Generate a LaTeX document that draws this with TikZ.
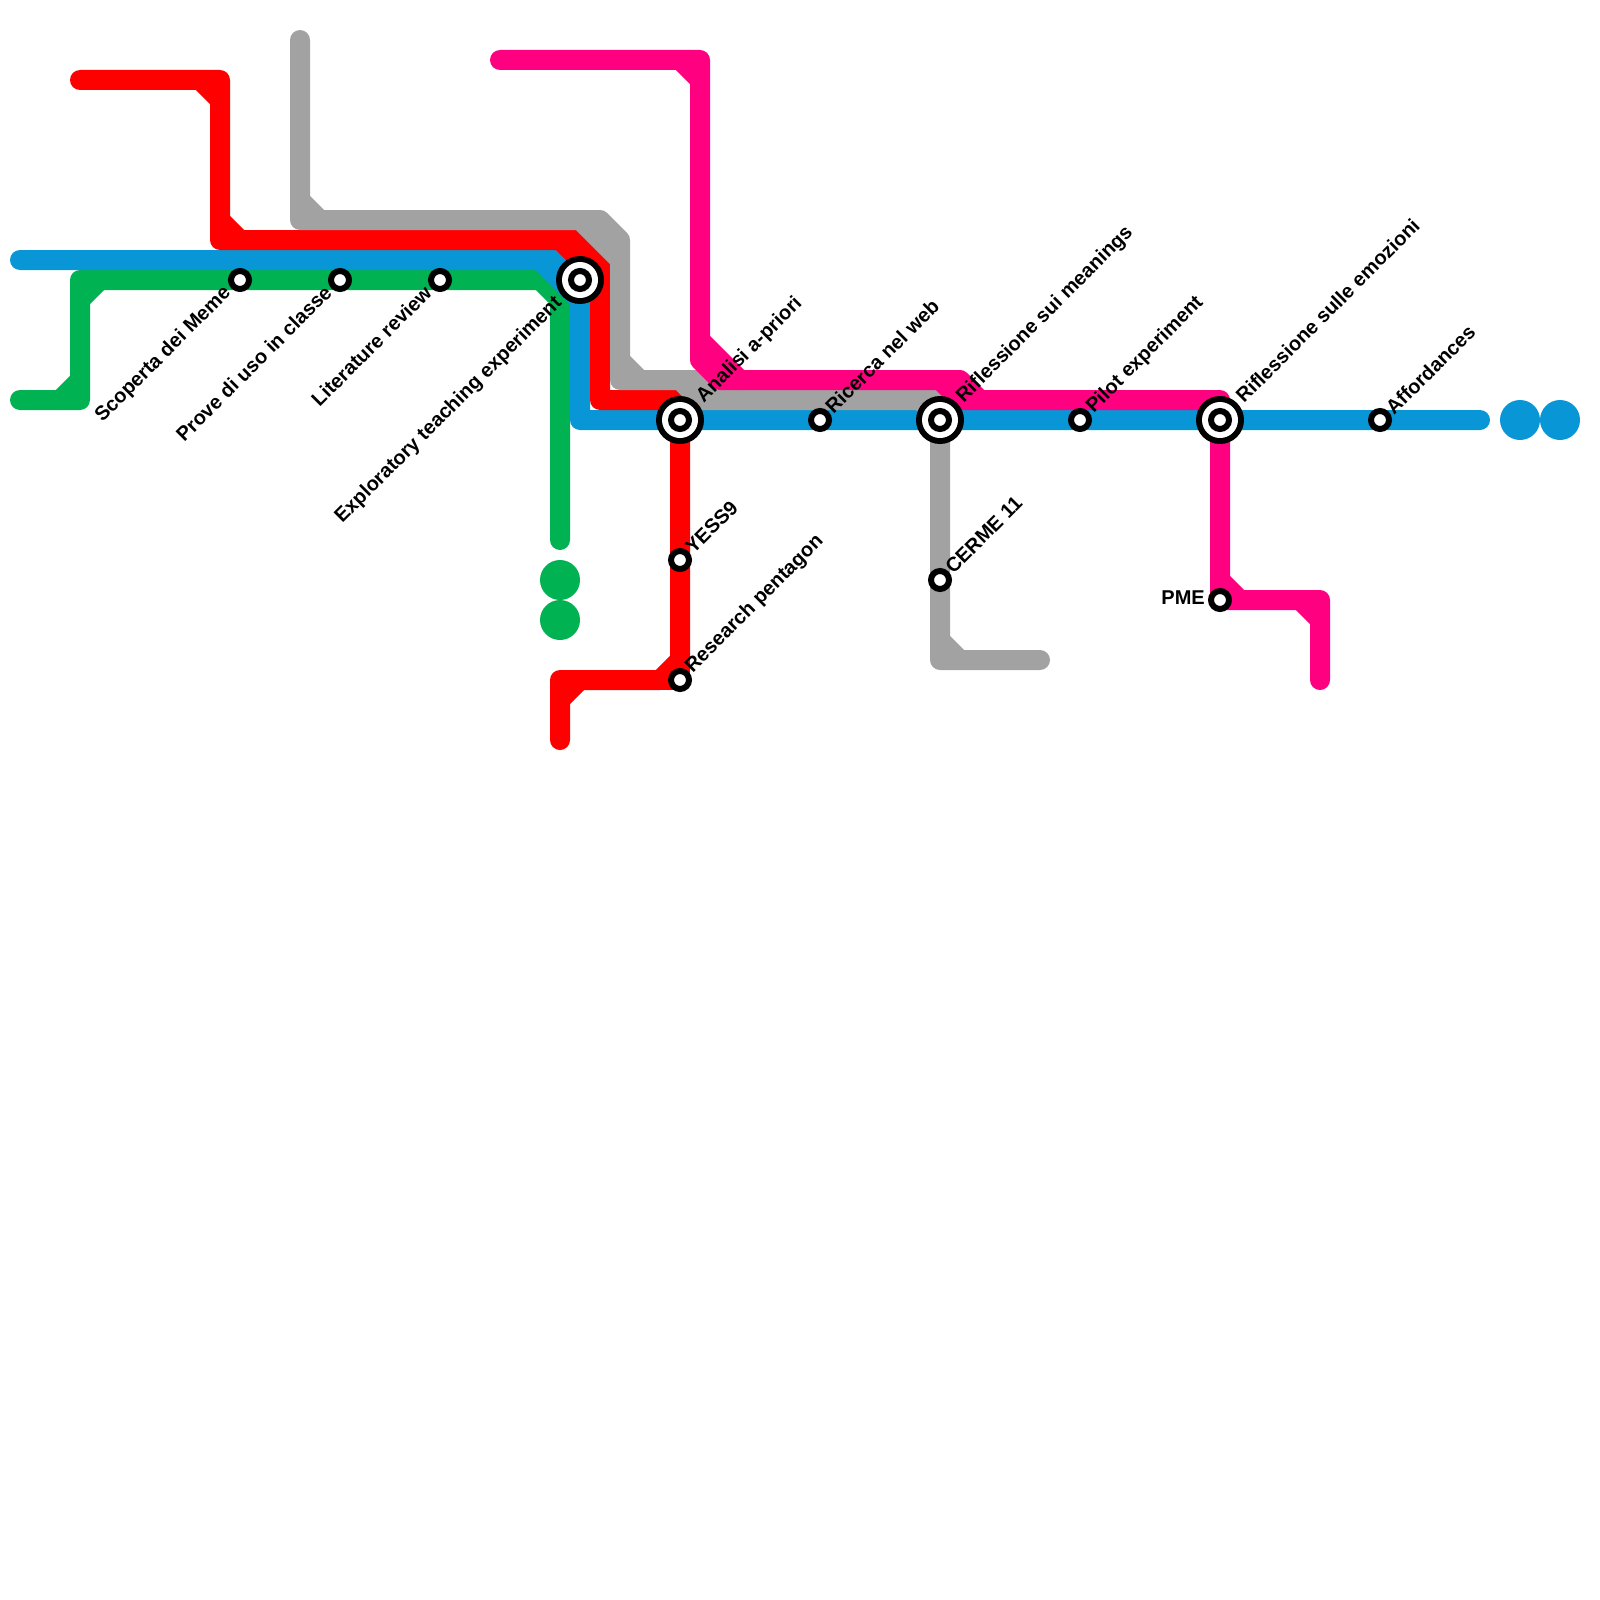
\documentclass[tikz,border=0pt]{standalone}
\usepackage{fontspec}
\usetikzlibrary{calc}
\setmainfont{Liberation Sans}
\definecolor{mblue}{HTML}{0896D7}
\definecolor{mgreen}{HTML}{00B251}
\definecolor{mred}{HTML}{FF0000}
\definecolor{mgray}{HTML}{A2A2A2}
\definecolor{mpink}{HTML}{FF0080}
\tikzset{
  metro/.style={line width=20pt,line cap=round,line join=round},
  stationsmall/.style={circle,draw=black,fill=white,line width=6pt,minimum size=18pt,inner sep=0pt,outer sep=0pt},
  hubouter/.style={circle,fill=black,minimum size=48pt,inner sep=0pt,outer sep=0pt},
  hubring/.style={circle,draw=black,fill=white,line width=6pt,minimum size=18pt,inner sep=0pt,outer sep=0pt},
  hubmid/.style={circle,fill=white,minimum size=36pt,inner sep=0pt,outer sep=0pt},
  lab/.style={font=\bfseries\fontsize{20}{22}\selectfont,text=black,inner sep=0pt},
  labr/.style={lab,rotate=45,anchor=west},
  labl/.style={lab,rotate=45,anchor=east},
}
\newcommand{\hubstation}[2]{%
  \node[hubouter] (#1) at (#2) {};
  \node[hubmid] at (#1) {};
  \node[hubring] at (#1) {};
}
\begin{document}
\begin{tikzpicture}[x=1pt,y=-1pt]
\useasboundingbox (0,0) rectangle (1600,1600);
% green
\draw[metro,mgreen] (20,400) -- (80,400) -- (80,280) -- (540,280) -- (560,300) -- (560,540);
\draw[metro,mgreen] (60,400) -- (80,380);
\draw[metro,mgreen] (80,300) -- (100,280);
% blue
\draw[metro,mblue] (20,260) -- (540,260) -- (580,300) -- (580,420) -- (1480,420);
\draw[metro,mblue] (560,260) -- (580,280);
\draw[metro,mblue] (540,260) -- (560,260);
% red
\draw[metro,mred] (80,80) -- (220,80) -- (220,240) -- (560,240) -- (600,280) -- (600,400) -- (680,400) -- (680,660) -- (660,680) -- (560,680) -- (560,740);
\draw[metro,mred] (200,80) -- (220,100);
\draw[metro,mred] (220,220) -- (240,240);
\draw[metro,mred] (560,240) -- (580,240) -- (600,260) -- (600,280);
\draw[metro,mred] (560,700) -- (580,680);
\draw[metro,mred] (680,680) -- (660,680);
\draw[metro,mred] (680,660) -- (680,680);
% gray
\draw[metro,mgray] (300,40) -- (300,220) -- (580,220) -- (620,260) -- (620,380) -- (680,380) -- (700,400) -- (920,400) -- (940,420) -- (940,660) -- (1040,660);
\draw[metro,mgray] (300,200) -- (320,220);
\draw[metro,mgray] (580,220) -- (600,220) -- (620,240) -- (620,260);
\draw[metro,mgray] (620,360) -- (640,380);
\draw[metro,mgray] (680,380) -- (700,380) -- (720,400);
\draw[metro,mgray] (920,400) -- (940,400);
\draw[metro,mgray] (940,640) -- (960,660);
% pink
\draw[metro,mpink] (500,60) -- (700,60) -- (700,360) -- (720,380) -- (940,380) -- (960,400) -- (1220,400) -- (1220,600) -- (1320,600) -- (1320,680);
\draw[metro,mpink] (680,60) -- (700,80);
\draw[metro,mpink] (700,340) -- (740,380);
\draw[metro,mpink] (940,380) -- (960,380) -- (980,400);
\draw[metro,mpink] (1220,580) -- (1240,600);
\draw[metro,mpink] (1300,600) -- (1320,620);
% terminal dots
\node[circle,fill=mblue,minimum size=40pt,inner sep=0pt] (bluedotA) at (1520,420) {};
\node[circle,fill=mblue,minimum size=40pt,inner sep=0pt] (bluedotB) at (1560,420) {};
\node[circle,fill=mgreen,minimum size=40pt,inner sep=0pt] (greendotA) at (560,580) {};
\node[circle,fill=mgreen,minimum size=40pt,inner sep=0pt] (greendotB) at (560,620) {};
% stations
\node[stationsmall] (meme) at (240,280) {};
\node[stationsmall] (prove) at (340,280) {};
\node[stationsmall] (lit) at (440,280) {};
\node[stationsmall] (web) at (820,420) {};
\node[stationsmall] (pilot) at (1080,420) {};
\node[stationsmall] (aff) at (1380,420) {};
\node[stationsmall] (yess) at (680,560) {};
\node[stationsmall] (penta) at (680,680) {};
\node[stationsmall] (cerme) at (940,580) {};
\node[stationsmall] (pme) at (1220,600) {};
\hubstation{expl}{580,280}
\hubstation{analisi}{680,420}
\hubstation{meanings}{940,420}
\hubstation{emoz}{1220,420}
% labels
\node[labl] (tmeme) at ($(meme)+(-12,10)$) {Scoperta dei Meme};
\node[labl] (tprove) at ($(prove)+(-12,9)$) {Prove di uso in classe};
\node[labl] (tlit) at ($(lit)+(-12,9)$) {Literature review};
\node[labl] (texpl) at ($(expl)+(-21,20)$) {Exploratory teaching experiment};
\node[labr] (tanalisi) at ($(analisi)+(20,-20)$) {Analisi a-priori};
\node[labr] (tweb) at ($(web)+(8.5,-10)$) {Ricerca nel web};
\node[labr] (tmeanings) at ($(meanings)+(20,-20)$) {Riflessione sui meanings};
\node[labr] (tpilot) at ($(pilot)+(10,-10)$) {Pilot experiment};
\node[labr] (temoz) at ($(emoz)+(19,-21)$) {Riflessione sulle emozioni};
\node[labr] (taff) at ($(aff)+(9,-9)$) {Affordances};
\node[labr] (tyess) at ($(yess)+(8.5,-10)$) {YESS9};
\node[labr] (tpenta) at ($(penta)+(9,-10)$) {Research pentagon};
\node[labr] (tcerme) at ($(cerme)+(8.5,-10)$) {CERME 11};
\node[lab,anchor=east] (tpme) at (1205,598) {PME};
\end{tikzpicture}
\end{document}
